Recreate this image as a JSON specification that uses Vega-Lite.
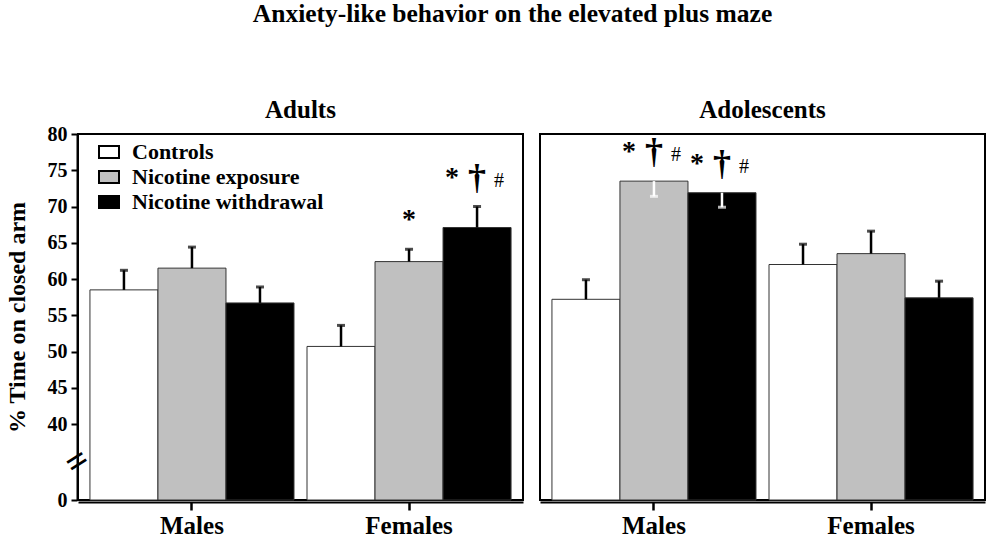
{
  "$schema": "https://vega.github.io/schema/vega-lite/v6.json",
  "padding": {"left": 5, "top": 1, "right": 5, "bottom": 2},
  "title": {"text": "Anxiety-like behavior on the elevated plus maze", "font": "Liberation Serif", "fontSize": 25.5, "fontWeight": "bold", "anchor": "middle", "frame": "bounds", "offset": 71, "dx": 17, "color": "black"},
  "config": {"font": "Liberation Serif", "view": {"stroke": "black", "strokeWidth": 2}, "axis": {"labelOverlap": false}},
  "data": {"values": [
    {"age": "Adults", "sex": "Males", "group": "Controls", "mean": 58.5, "err": 61.2, "sig": ""},
    {"age": "Adults", "sex": "Males", "group": "Nicotine exposure", "mean": 61.5, "err": 64.4, "sig": ""},
    {"age": "Adults", "sex": "Males", "group": "Nicotine withdrawal", "mean": 56.7, "err": 58.9, "sig": ""},
    {"age": "Adults", "sex": "Females", "group": "Controls", "mean": 50.7, "err": 53.6, "sig": ""},
    {"age": "Adults", "sex": "Females", "group": "Nicotine exposure", "mean": 62.4, "err": 64.1, "sig": "*"},
    {"age": "Adults", "sex": "Females", "group": "Nicotine withdrawal", "mean": 67.1, "err": 70.0, "sig": "*†#"},
    {"age": "Adolescents", "sex": "Males", "group": "Controls", "mean": 57.2, "err": 59.9, "sig": ""},
    {"age": "Adolescents", "sex": "Males", "group": "Nicotine exposure", "mean": 73.5, "err": 71.4, "sig": "*†#"},
    {"age": "Adolescents", "sex": "Males", "group": "Nicotine withdrawal", "mean": 71.9, "err": 69.9, "sig": "*†#"},
    {"age": "Adolescents", "sex": "Females", "group": "Controls", "mean": 62.0, "err": 64.8, "sig": ""},
    {"age": "Adolescents", "sex": "Females", "group": "Nicotine exposure", "mean": 63.5, "err": 66.6, "sig": ""},
    {"age": "Adolescents", "sex": "Females", "group": "Nicotine withdrawal", "mean": 57.4, "err": 59.7, "sig": ""}
  ]},
  "transform": [{"calculate": "max(datum.mean, datum.err)", "as": "top"}],
  "facet": {"column": {"field": "age", "type": "nominal", "sort": ["Adults", "Adolescents"], "title": null,
    "header": {"labelFont": "Liberation Serif", "labelFontSize": 25, "labelFontWeight": "bold", "labelColor": "black", "labelPadding": 10}}},
  "spacing": 15,
  "spec": {
    "width": 445,
    "height": 366,
    "encoding": {
      "x": {"field": "sex", "type": "nominal", "sort": ["Males", "Females"],
        "scale": {"paddingInner": 0.06, "paddingOuter": 0.055},
        "axis": {"title": null, "labelFont": "Liberation Serif", "labelFontSize": 25, "labelFontWeight": "bold", "labelColor": "black", "labelAngle": 0, "tickSize": 8, "tickWidth": 2.5, "tickColor": "black", "domainColor": "black", "domainWidth": 2, "labelPadding": 3}},
      "xOffset": {"field": "group", "type": "nominal", "sort": ["Controls", "Nicotine exposure", "Nicotine withdrawal"], "scale": {"paddingInner": 0, "paddingOuter": 0}}
    },
    "resolve": {"axis": {"y": "independent"}},
    "layer": [
      {
        "mark": {"type": "bar", "stroke": "#333333", "strokeWidth": 1},
        "encoding": {
          "y": {"field": "mean", "type": "quantitative", "title": "% Time on closed arm",
            "scale": {"domain": [0, 40, 80], "range": [366, 290, 0], "nice": false, "zero": false},
            "axis": {"orient": "left", "values": [0, 40, 45, 50, 55, 60, 65, 70, 75, 80],
              "labelOverlap": false,
              "labelFont": "Liberation Serif", "labelFontSize": 20,
              "labelFontWeight": "bold", "labelColor": "black", "labelPadding": 4,
              "tickColor": "black", "tickSize": 6, "tickWidth": 2, "domainColor": "black", "domainWidth": 2, "grid": false,
              "titleFont": "Liberation Serif", "titleFontSize": 24, "titleFontWeight": "bold", "titleColor": "black", "titlePadding": 18}},
          "fill": {"field": "group", "type": "nominal", "sort": ["Controls", "Nicotine exposure", "Nicotine withdrawal"],
            "scale": {"domain": ["Controls", "Nicotine exposure", "Nicotine withdrawal"], "range": ["white", "#c0c0c0", "black"]},
            "legend": {"orient": "none", "legendX": 20, "legendY": 7, "title": null,
              "symbolType": "M -1 -0.6 H 1 V 0.6 H -1 Z", "symbolSize": 400, "symbolStrokeColor": "black", "symbolStrokeWidth": 2,
              "labelFont": "Liberation Serif", "labelFontSize": 22, "labelFontWeight": "bold", "labelColor": "black", "labelLimit": 400, "rowPadding": 3, "labelOffset": 12}}
        }
      },
      {
        "mark": {"type": "rule", "strokeWidth": 2.5},
        "encoding": {
          "y": {"field": "mean", "type": "quantitative", "title": null,
            "axis": {"orient": "left", "values": [20], "labelExpr": "'='", "labelOverlap": false, "labelAngle": -32,
              "labelAlign": "center", "labelBaseline": "middle", "labelPadding": 0, "labelFont": "Liberation Serif",
              "labelFontSize": 38, "labelFontWeight": "bold", "labelColor": "black",
              "ticks": false, "tickSize": 0, "domain": false, "grid": false, "title": null}},
          "y2": {"field": "err"},
          "color": {"condition": {"test": "datum.err < datum.mean", "value": "white"}, "value": "black"}
        }
      },
      {
        "mark": {"type": "tick", "thickness": 3, "size": 8},
        "encoding": {
          "y": {"field": "err", "type": "quantitative", "axis": null},
          "color": {"condition": {"test": "datum.err < datum.mean", "value": "white"}, "value": "black"}
        }
      },
      {
        "transform": [{"filter": "datum.sig == '*'"}],
        "mark": {"type": "text", "text": "*", "fontSize": 28, "fontWeight": "bold", "baseline": "alphabetic", "dy": -21, "color": "black"},
        "encoding": {"y": {"field": "top", "type": "quantitative", "axis": null}}
      },
      {
        "transform": [{"filter": "datum.sig == '*†#'"}],
        "mark": {"type": "text", "text": "*", "fontSize": 28, "fontWeight": "bold", "baseline": "alphabetic", "dy": -21, "dx": -25, "color": "black"},
        "encoding": {"y": {"field": "top", "type": "quantitative", "axis": null}}
      },
      {
        "transform": [{"filter": "datum.sig == '*†#'"}],
        "mark": {"type": "text", "text": "†", "fontSize": 36, "fontWeight": "bold", "baseline": "alphabetic", "dy": -18, "color": "black"},
        "encoding": {"y": {"field": "top", "type": "quantitative", "axis": null}}
      },
      {
        "transform": [{"filter": "datum.sig == '*†#'"}],
        "mark": {"type": "text", "text": "#", "fontSize": 20, "fontWeight": "normal", "baseline": "alphabetic", "dy": -20, "dx": 22, "color": "black"},
        "encoding": {"y": {"field": "top", "type": "quantitative", "axis": null}}
      }
    ]
  }
}
